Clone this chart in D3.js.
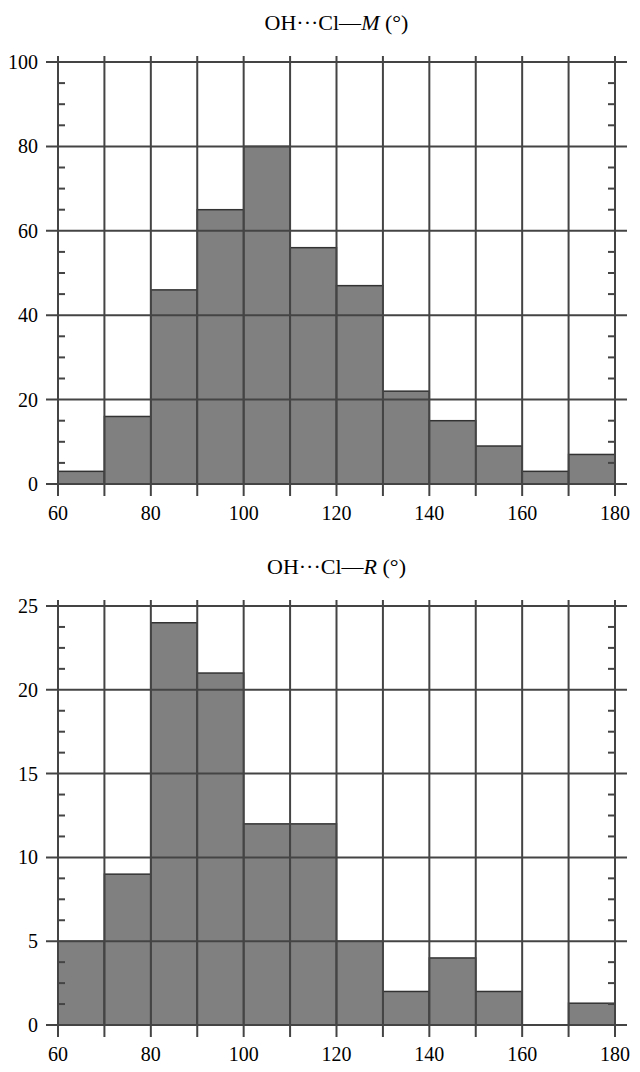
<!DOCTYPE html><html><head><meta charset="utf-8"><script src="https://cdn.jsdelivr.net/npm/d3@7"></script>
<style>body{margin:0;background:#fff}</style></head><body><svg id="c" width="640" height="1072"></svg>
<script>
const binStarts=[60,70,80,90,100,110,120,130,140,150,160,170];
const valuesM=[3,16,46,65,80,56,47,22,15,9,3,7];
const valuesR=[5,9,24,21,12,12,5,2,4,2,0,1.3];
const xTicks=[60,80,100,120,140,160,180];
const yTicksM=[0,20,40,60,80,100];
const yTicksR=[0,5,10,15,20,25];
const svg=d3.select("#c");
const font="'Liberation Serif','DejaVu Serif',serif";
function panel(title,vals,yt,ymax,top,bottom){
  const x=d3.scaleLinear().domain([60,180]).range([58,615]);
  const y=d3.scaleLinear().domain([0,ymax]).range([bottom,top]);
  const g=svg.append("g");
  const step=yt[1]-yt[0];
  g.selectAll("rect").data(vals).join("rect")
    .attr("x",(d,i)=>x(binStarts[i])).attr("width",(d,i)=>x(binStarts[i]+10)-x(binStarts[i]))
    .attr("y",d=>y(d)).attr("height",d=>y(0)-y(d))
    .attr("fill","#808080").attr("stroke","#333").attr("stroke-width",1.5);
  d3.range(60,181,10).forEach(v=>g.append("line").attr("x1",x(v)).attr("x2",x(v)).attr("y1",top-6).attr("y2",bottom+12).attr("stroke","#444").attr("stroke-width",2));
  yt.forEach(v=>g.append("line").attr("x1",x(60)-12).attr("x2",x(180)+12).attr("y1",y(v)).attr("y2",y(v)).attr("stroke","#444").attr("stroke-width",2));
  for(let v=0;v<ymax;v+=step){for(let k=1;k<4;k++){const yy=y(v+k*step/4);
    g.append("line").attr("x1",x(60)).attr("x2",x(60)+7).attr("y1",yy).attr("y2",yy).attr("stroke","#444").attr("stroke-width",2);
    g.append("line").attr("x1",x(180)-7).attr("x2",x(180)).attr("y1",yy).attr("y2",yy).attr("stroke","#444").attr("stroke-width",2);}}
  yt.forEach(v=>g.append("text").attr("x",38).attr("y",y(v)+7).attr("text-anchor","end").attr("font-family",font).attr("font-size",20).text(v));
  xTicks.forEach(v=>g.append("text").attr("x",x(v)).attr("y",bottom+36).attr("text-anchor","middle").attr("font-family",font).attr("font-size",20).text(v));
  const t=g.append("text").attr("x",x(120)).attr("y",top-32).attr("text-anchor","middle").attr("font-family",font).attr("font-size",22);
  t.append("tspan").text("OH···Cl—");t.append("tspan").attr("font-style","italic").text(title);t.append("tspan").text(" (°)");
}
panel("M",valuesM,yTicksM,100,62,484);
panel("R",valuesR,yTicksR,25,606,1025);
</script></body></html>
